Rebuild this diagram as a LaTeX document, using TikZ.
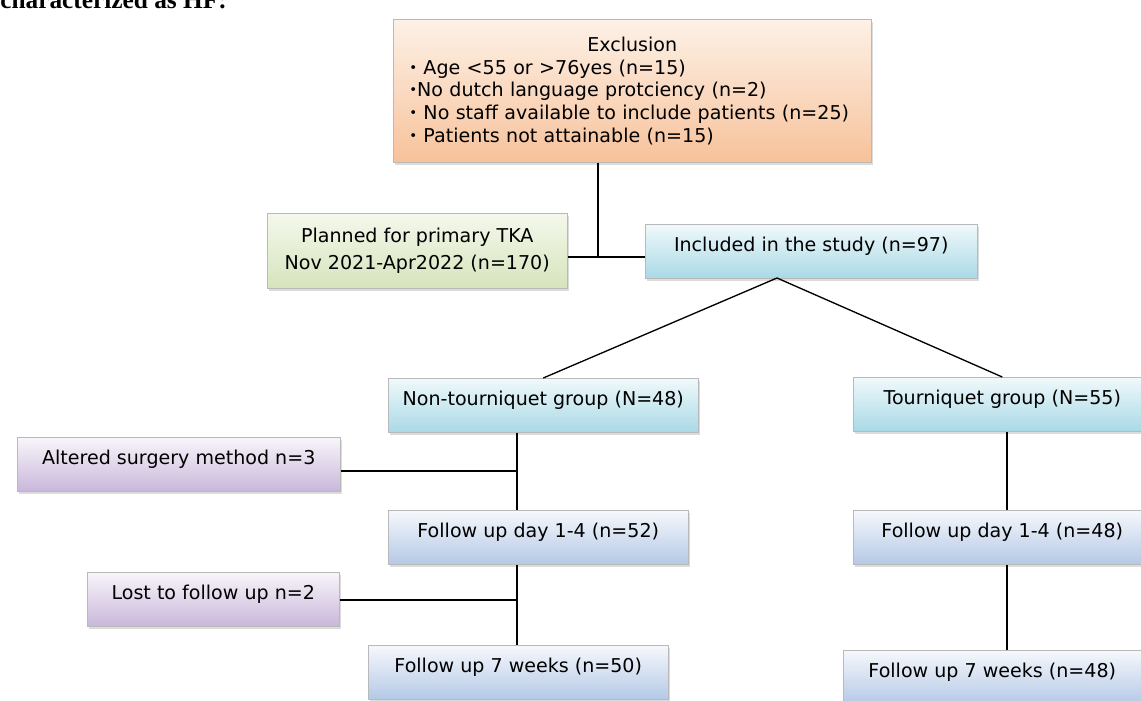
\documentclass[tikz,border=0pt]{standalone}
\usepackage{fontspec}
\setmainfont{DejaVu Sans}
\newfontfamily\headserif{Liberation Serif}
\usetikzlibrary{shadows, calc}

\definecolor{exclTop}{HTML}{FDF1E7}
\definecolor{exclBot}{HTML}{F7C29A}
\definecolor{planTop}{HTML}{F4F8EC}
\definecolor{planBot}{HTML}{D6E4BC}
\definecolor{cyanTop}{HTML}{F0F9FB}
\definecolor{cyanBot}{HTML}{A9D9E6}
\definecolor{blueTop}{HTML}{F6F8FC}
\definecolor{blueBot}{HTML}{B4C9E6}
\definecolor{lilacTop}{HTML}{F8F5FA}
\definecolor{lilacBot}{HTML}{C9B7DA}

\newcommand{\smallbullet}{{\fontsize{10}{10}\selectfont\raisebox{1.5pt}{\textbullet}}}

\begin{document}
\begin{tikzpicture}[
        x=0.75pt, y=-0.75pt,
        font=\fontsize{14.3}{17}\selectfont,
        block/.style={
            draw=gray!55,
            anchor=north west,
            align=center,
            inner xsep=4pt,
            drop shadow={shadow xshift=1.5pt, shadow yshift=-2pt, fill=gray!55}
        },
        single/.style={
            block,
            inner ysep=9.7pt,
            text height=10.6pt,
            text depth=10.5pt
        },
        exclusion/.style={top color=exclTop, bottom color=exclBot},
        planned/.style={top color=planTop, bottom color=planBot},
        group/.style={single, top color=cyanTop, bottom color=cyanBot},
        followup/.style={single, top color=blueTop, bottom color=blueBot},
        dropout/.style={single, top color=lilacTop, bottom color=lilacBot},
        link/.style={line width=1pt}
    ]

    \useasboundingbox (0,0) rectangle (1141,700);

    \node[anchor=base west, inner sep=0pt,
        font=\headserif\bfseries\fontsize{19}{19}\selectfont] (heading) at (0,8) {characterized as HF:};

    \node[block, exclusion, minimum width=358.5pt, minimum height=107.25pt,
        align=left, inner xsep=12pt, text width=334.5pt] (excl) at (393,19)
        {\makebox[334.5pt]{Exclusion}\\
         \smallbullet{} Age <55 or >76yes (n=15)\\
         \smallbullet{}No dutch language protciency (n=2)\\
         \smallbullet{} No staff available to include patients (n=25)\\
         \smallbullet{} Patients not attainable (n=15)};

    \node[block, planned, minimum width=225pt, minimum height=56.25pt] (plan) at (267,213)
        {Planned for primary TKA\\[3pt] Nov 2021-Apr2022 (n=170)};
    \node[group, minimum width=249pt] (incl) at (645,224) {Included in the study (n=97)};

    \node[group, minimum width=232.5pt] (nont) at (388,378) {Non-tourniquet group (N=48)};
    \node[group, minimum width=223.5pt] (tour) at (853,377) {Tourniquet group (N=55)};

    \node[dropout, minimum width=242.25pt] (alt) at (17,437) {Altered surgery method n=3};
    \node[followup, minimum width=225pt] (fud1) at (388,510) {Follow up day 1-4 (n=52)};
    \node[followup, minimum width=223.5pt] (fud2) at (853,510) {Follow up day 1-4 (n=48)};

    \node[dropout, minimum width=189pt] (lost) at (87,572) {Lost to follow up n=2};
    \node[followup, minimum width=225pt] (fuw1) at (368,645) {Follow up 7 weeks (n=50)};
    \node[followup, minimum width=223.5pt] (fuw2) at (843,650) {Follow up 7 weeks (n=48)};

    \coordinate (jtop) at (598,257);
    \coordinate (apex) at (777,278);
    \coordinate (jalt) at (517,471);
    \coordinate (jlost) at (517,600);
    \coordinate (jright) at (1007,0);

    \draw[link] (excl.south -| jtop) -- (jtop);
    \draw[link] (plan.east |- jtop) -- (incl.west |- jtop);
    \draw[link] (nont.north) -- (apex) -- (tour.north);
    \draw[link] (nont.south -| jalt) -- (fud1.north -| jalt);
    \draw[link] (alt.east |- jalt) -- (jalt);
    \draw[link] (fud1.south -| jlost) -- (fuw1.north -| jlost);
    \draw[link] (lost.east |- jlost) -- (jlost);
    \draw[link] (tour.south -| jright) -- (fud2.north -| jright);
    \draw[link] (fud2.south -| jright) -- (fuw2.north -| jright);

\end{tikzpicture}
\end{document}
